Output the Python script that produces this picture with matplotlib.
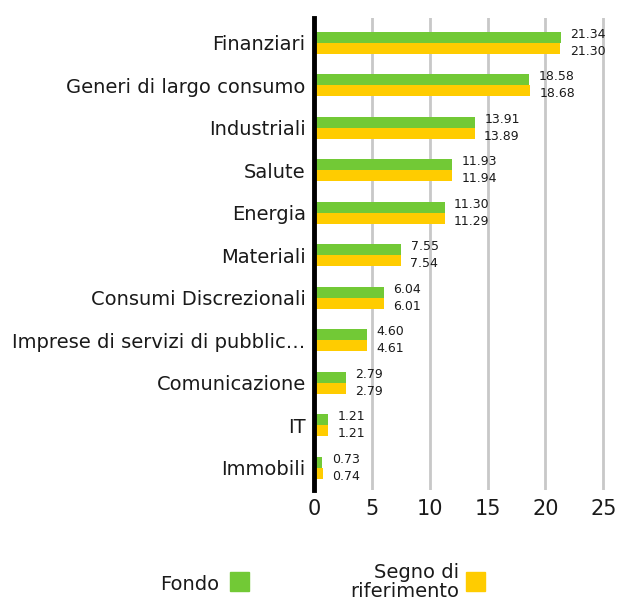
import numpy as np
import matplotlib
matplotlib.use("Agg")
import matplotlib.pyplot as plt
from matplotlib.patches import Rectangle

categorie = ["Finanziari", "Generi di largo consumo", "Industriali", "Salute",
             "Energia", "Materiali", "Consumi Discrezionali",
             "Imprese di servizi di pubblic\u2026", "Comunicazione", "IT", "Immobili"]
fondo = [21.34, 18.58, 13.91, 11.93, 11.30, 7.55, 6.04, 4.60, 2.79, 1.21, 0.73]
riferimento = [21.30, 18.68, 13.89, 11.94, 11.29, 7.54, 6.01, 4.61, 2.79, 1.21, 0.74]
xticks = [0, 5, 10, 15, 20, 25]

verde = "#72c936"
giallo = "#ffcc00"
testo = "#1a1a1a"

plt.rcParams['font.family'] = ['DejaVu Sans']

fig = plt.figure(figsize=(6.17, 6.06), dpi=100)
ax = fig.add_axes([314 / 617, 0.191, 291 / 617, 0.779])

y = np.arange(len(categorie))
h = 0.26
ax.barh(y - h / 2, fondo, height=h, color=verde, zorder=3)
ax.barh(y + h / 2, riferimento, height=h, color=giallo, zorder=3)

for i in range(len(categorie)):
    ax.text(fondo[i] + 0.8, y[i] - h / 2 - 0.07, f"{fondo[i]:.2f}", va="center", ha="left",
            fontsize=9, color=testo)
    ax.text(riferimento[i] + 0.8, y[i] + h / 2 + 0.07, f"{riferimento[i]:.2f}", va="center", ha="left",
            fontsize=9, color=testo)

ax.set_ylim(len(categorie) - 0.47, -0.58)
ax.set_xlim(0, 25.15)
ax.set_yticks(y)
ax.set_yticklabels(categorie, fontsize=14, color=testo)
ax.set_xticks(xticks)
ax.set_xticklabels([str(t) for t in xticks], fontsize=15, color=testo)
ax.tick_params(axis="both", length=0, pad=6)

for s in ["top", "right", "bottom"]:
    ax.spines[s].set_visible(False)
ax.spines["left"].set_linewidth(3.5)
ax.spines["left"].set_color("black")
ax.spines["left"].set_zorder(5)
ax.grid(axis="x", color="#c8c8c8", linewidth=2, zorder=0)
ax.set_axisbelow(True)

# legenda
fig.text(219 / 617, 1 - 584 / 606, "Fondo", ha="right", va="center", fontsize=14, color=testo)
fig.patches.append(Rectangle((230 / 617, 1 - 591 / 606), 19 / 617, 19 / 606,
                             transform=fig.transFigure, color=verde, figure=fig))
fig.text(459 / 617, 1 - 582 / 606, "Segno di\nriferimento", ha="right", va="center",
         multialignment="right", fontsize=14, color=testo, linespacing=1.05)
fig.patches.append(Rectangle((466 / 617, 1 - 591 / 606), 19 / 617, 19 / 606,
                             transform=fig.transFigure, color=giallo, figure=fig))

fig.savefig("out.png", dpi=100)
